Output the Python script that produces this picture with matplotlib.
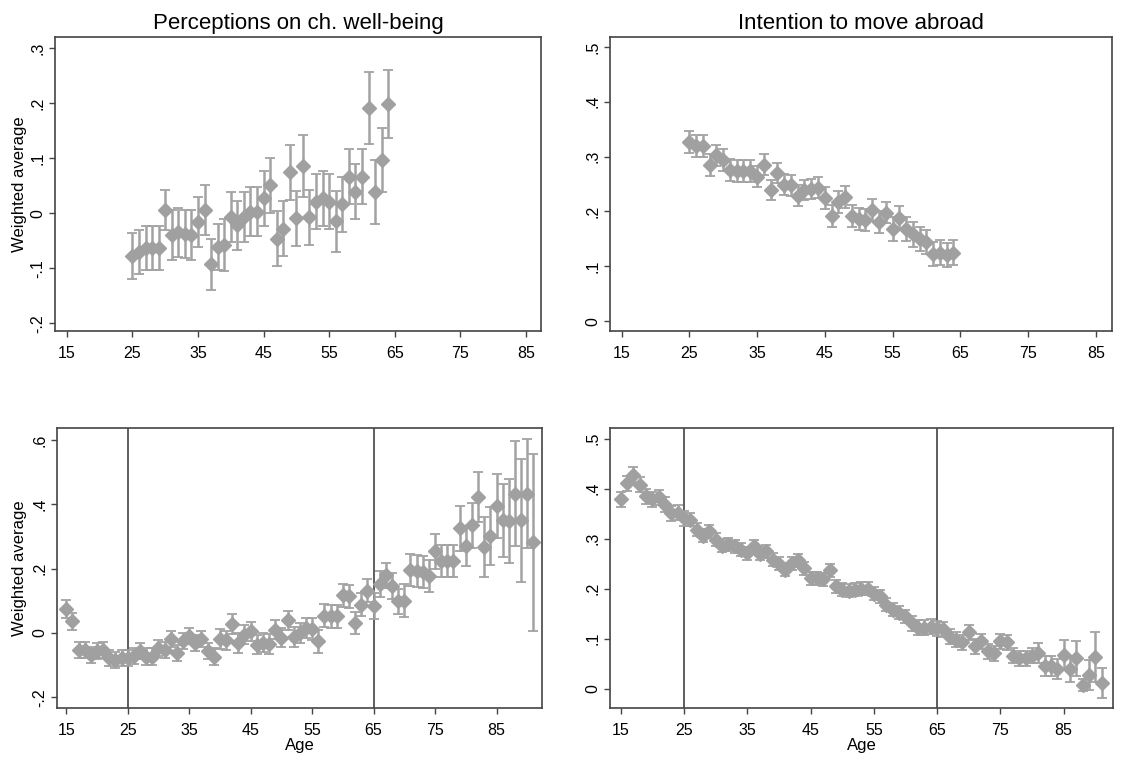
import numpy as np
import matplotlib
matplotlib.use('Agg')
import matplotlib.pyplot as plt
from matplotlib.ticker import FuncFormatter

plt.rcParams['font.family'] = ['Liberation Sans', 'DejaVu Sans']

# --- data ---
age_top = list(range(25, 65))
age_bot = list(range(15, 92))

wellbeing_top = [-0.078, -0.070, -0.064, -0.064, -0.063, 0.006, -0.040, -0.035, -0.038, -0.040,
                 -0.016, 0.006, -0.093, -0.061, -0.058, -0.007, -0.022, -0.007, 0.003, 0.003,
                 0.027, 0.051, -0.046, -0.028, 0.074, -0.009, 0.086, -0.007, 0.021, 0.027,
                 0.021, -0.015, 0.016, 0.066, 0.039, 0.066, 0.191, 0.039, 0.097, 0.198]
wellbeing_top_err = [0.042, 0.040, 0.040, 0.040, 0.040, 0.036, 0.045, 0.045, 0.044, 0.045,
                     0.045, 0.045, 0.047, 0.042, 0.047, 0.045, 0.045, 0.045, 0.045, 0.045,
                     0.050, 0.050, 0.050, 0.050, 0.050, 0.050, 0.056, 0.050, 0.050, 0.050,
                     0.050, 0.055, 0.050, 0.050, 0.050, 0.050, 0.065, 0.058, 0.058, 0.062]

abroad_top = [0.326, 0.320, 0.320, 0.285, 0.302, 0.294, 0.276, 0.273, 0.274, 0.274,
              0.263, 0.285, 0.239, 0.270, 0.249, 0.248, 0.229, 0.239, 0.241, 0.243,
              0.224, 0.192, 0.217, 0.227, 0.192, 0.187, 0.184, 0.203, 0.181, 0.198,
              0.168, 0.188, 0.168, 0.158, 0.150, 0.145, 0.122, 0.125, 0.120, 0.125]
abroad_top_err = [0.020] * 10 + [0.019] * 10 + [0.020] * 10 + [0.022] * 10

wellbeing_bot = [0.075, 0.036, -0.052, -0.054, -0.067, -0.057, -0.052, -0.078, -0.083, -0.078,
                 -0.078, -0.071, -0.057, -0.073, -0.073, -0.047, -0.052, -0.019, -0.062, -0.026,
                 -0.010, -0.031, -0.019, -0.057, -0.073, -0.019, -0.023, 0.028, -0.031, -0.005,
                 0.005, -0.036, -0.030, -0.034, 0.010, -0.015, 0.039, -0.012, 0.000, 0.016,
                 0.012, -0.026, 0.054, 0.052, 0.052, 0.117, 0.114, 0.031, 0.088, 0.132,
                 0.085, 0.153, 0.179, 0.147, 0.098, 0.101, 0.195, 0.193, 0.190, 0.176,
                 0.254, 0.223, 0.225, 0.224, 0.326, 0.269, 0.335, 0.422, 0.267, 0.302,
                 0.394, 0.350, 0.347, 0.433, 0.350, 0.433, 0.282]
wellbeing_bot_err = ([0.029, 0.027] + [0.025] * 23 + [0.030] * 15 + [0.035] * 10 + [0.040] * 5
                     + [0.050, 0.050, 0.050, 0.050, 0.050, 0.054, 0.050, 0.050, 0.050]
                     + [0.070, 0.060, 0.070, 0.078, 0.093, 0.090, 0.100, 0.114, 0.130,
                        0.163, 0.190, 0.170, 0.275])

abroad_bot = [0.379, 0.411, 0.428, 0.408, 0.385, 0.379, 0.383, 0.368, 0.351, 0.352,
              0.341, 0.338, 0.318, 0.306, 0.315, 0.298, 0.286, 0.289, 0.285, 0.278,
              0.271, 0.285, 0.270, 0.275, 0.258, 0.250, 0.238, 0.251, 0.257, 0.241,
              0.221, 0.221, 0.219, 0.237, 0.205, 0.198, 0.196, 0.198, 0.200, 0.200,
              0.190, 0.185, 0.168, 0.158, 0.152, 0.145, 0.131, 0.122, 0.122, 0.124,
              0.121, 0.119, 0.104, 0.098, 0.093, 0.113, 0.085, 0.095, 0.075, 0.071,
              0.095, 0.093, 0.066, 0.061, 0.061, 0.066, 0.071, 0.045, 0.045, 0.039,
              0.068, 0.039, 0.061, 0.008, 0.028, 0.063, 0.011]
abroad_bot_err = ([0.015] * 11 + [0.013] * 35 + [0.015] * 20
                  + [0.020, 0.020, 0.020, 0.020, 0.030, 0.025, 0.035, 0.012, 0.030, 0.050, 0.030])

xticks = [15, 25, 35, 45, 55, 65, 75, 85]
titles = ['Perceptions on ch. well-being', 'Intention to move abroad']

W, H = 1121, 761
fig = plt.figure(figsize=(W / 100, H / 100), dpi=100)


def px_axes(l, t, r, b):
    return fig.add_axes([l / W, 1 - b / H, (r - l) / W, (b - t) / H])


def stata_fmt(v, pos):
    s = f'{v:.1f}'.rstrip('0').rstrip('.')
    if s in ('-0', ''):
        s = '0'
    return s.replace('0.', '.')


def draw(ax, x, y, err, yticks, ylim, xlim, vlines=False):
    if vlines:
        for v in (25, 65):
            ax.axvline(v, color='#333333', lw=1.1, zorder=1)
    eb = ax.errorbar(x, y, yerr=err, fmt='D', ms=6.7, color='#a0a0a0', mec='#a0a0a0',
                     ecolor='#a2a2a2', elinewidth=1.8, capsize=3.5, capthick=1.3, zorder=3)
    for cap in eb[1]:
        cap.set_color('#6a6a6a')
    ax.set_xlim(*xlim)
    ax.set_ylim(*ylim)
    ax.set_xticks(xticks)
    ax.set_yticks(yticks)
    ax.yaxis.set_major_formatter(FuncFormatter(stata_fmt))
    ax.tick_params(axis='both', length=4, width=1, color='#444444', labelsize=11.5)
    ax.tick_params(axis='x', pad=6.5)
    ax.tick_params(axis='y', pad=3)
    for lab in ax.get_yticklabels():
        lab.set_rotation(90)
        lab.set_va('center')
    for sp in ax.spines.values():
        sp.set_color('#444444')
        sp.set_linewidth(1.2)


ax1 = px_axes(55, 37, 541, 331)
draw(ax1, age_top, wellbeing_top, wellbeing_top_err,
     [-0.2, -0.1, 0, 0.1, 0.2, 0.3], (-0.214, 0.32), (13.2, 87.3))
ax1.set_title(titles[0], fontsize=16, pad=6)
ax1.set_ylabel('Weighted average', fontsize=12)
ax1.yaxis.set_label_coords(-0.058, 0.5)

ax2 = px_axes(610, 37, 1112, 331)
draw(ax2, age_top, abroad_top, abroad_top_err,
     [0, 0.1, 0.2, 0.3, 0.4, 0.5], (-0.018, 0.518), (13.3, 87.4))
ax2.set_title(titles[1], fontsize=16, pad=6)

ax3 = px_axes(57, 428, 542, 708)
draw(ax3, age_bot, wellbeing_bot, wellbeing_bot_err,
     [-0.2, 0, 0.2, 0.4, 0.6], (-0.233, 0.637), (13.5, 92.4), vlines=True)
ax3.set_ylabel('Weighted average', fontsize=12)
ax3.yaxis.set_label_coords(-0.062, 0.5)
ax3.set_xlabel('Age', fontsize=12, labelpad=0)

ax4 = px_axes(610, 428, 1113, 708)
draw(ax4, age_bot, abroad_bot, abroad_bot_err,
     [0, 0.1, 0.2, 0.3, 0.4, 0.5], (-0.039, 0.521), (13.3, 92.8), vlines=True)
ax4.set_xlabel('Age', fontsize=12, labelpad=0)

fig.savefig('out.png', dpi=100)
